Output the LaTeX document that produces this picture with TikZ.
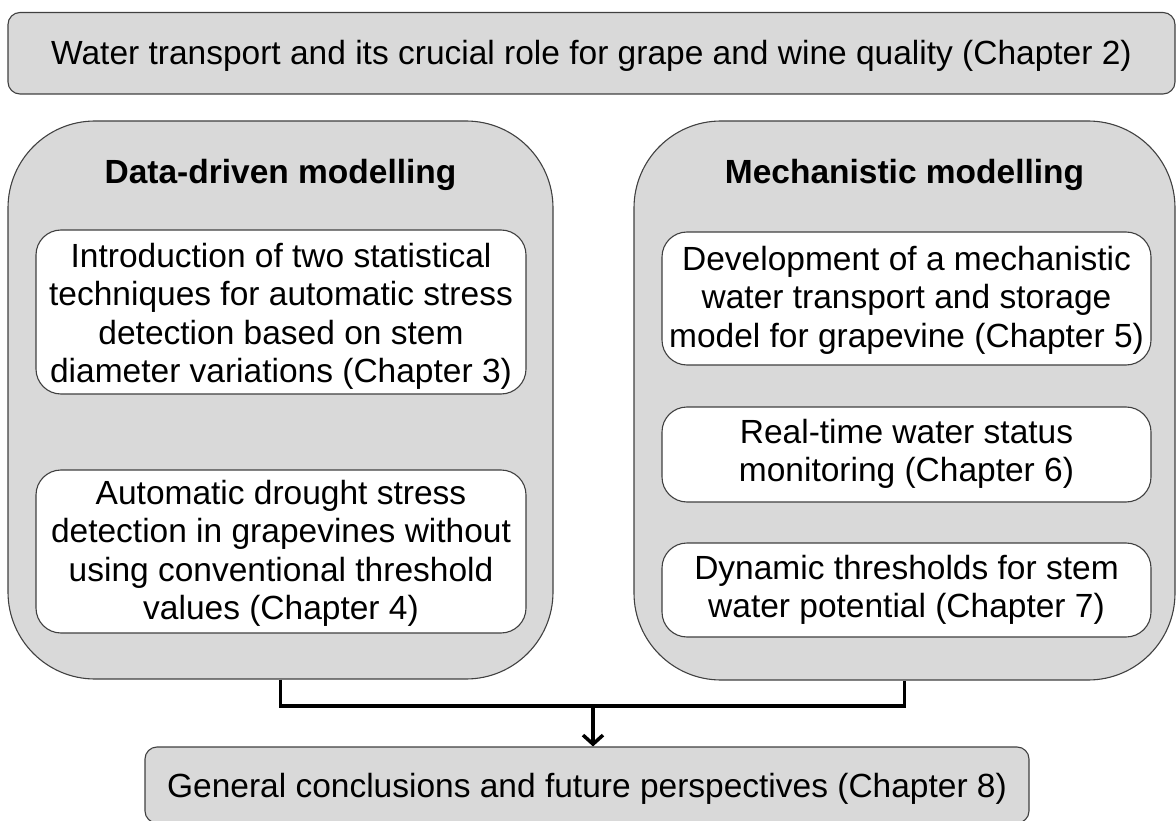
\documentclass[tikz,border=0pt]{standalone}
\usepackage{fontspec}
\setmainfont{Liberation Sans}
\usetikzlibrary{arrows.meta}
\definecolor{boxgray}{HTML}{D9D9D9}
\definecolor{edgegray}{HTML}{404040}
\newcommand{\lowered}[2]{\raisebox{-#1}[\height][\depth]{\begin{tabular}{@{}c@{}}#2\end{tabular}}}
\begin{document}
\begin{tikzpicture}[x=1pt,y=-1pt,
  txt/.style={font=\fontsize{33.5}{38.5}\selectfont, inner sep=0pt, align=center, text=black},
  bar/.style={txt, draw=edgegray, fill=boxgray, line width=1.1pt, rounded corners=12pt},
  panel/.style={draw=edgegray, fill=boxgray, line width=1.1pt, rounded corners=87pt, inner sep=0pt},
  card/.style={txt, draw=edgegray, fill=white, line width=1.1pt, rounded corners=25pt},
  heading/.style={txt, font=\fontsize{33.5}{38.5}\selectfont\bfseries, anchor=base},
  link/.style={line width=3.5pt, black},
]
\useasboundingbox (0,0) rectangle (1176,821);
\node[bar, minimum width=1167pt, minimum height=81.5pt] (top) at (591.5,53.25) {\lowered{3.8pt}{Water transport and its crucial role for grape and wine quality (Chapter 2)}};
\node[panel, minimum width=545pt, minimum height=558pt] (dd) at (280.5,400) {};
\node[panel, minimum width=541pt, minimum height=559pt] (mm) at (904.5,400.5) {};
\node[heading] (ddh) at (280.5,184) {Data-driven modelling};
\node[heading] (mmh) at (904.5,184) {Mechanistic modelling};
\node[card, minimum width=490pt, minimum height=164pt] (c3) at (281,312) {\lowered{5.5pt}{Introduction of two statistical\\techniques for automatic stress\\detection based on stem\\diameter variations (Chapter 3)}};
\node[card, minimum width=490pt, minimum height=163pt] (c4) at (281,551.5) {\lowered{2.8pt}{Automatic drought stress\\detection in grapevines without\\using conventional threshold\\values (Chapter 4)}};
\node[card, minimum width=489pt, minimum height=133pt] (c5) at (906.5,298.5) {\lowered{2.8pt}{Development of a mechanistic\\water transport and storage\\model for grapevine (Chapter 5)}};
\node[card, minimum width=489pt, minimum height=95pt] (c6) at (906.5,454.5) {\lowered{0.5pt}{Real-time water status\\monitoring (Chapter 6)}};
\node[card, minimum width=489pt, minimum height=94pt] (c7) at (906.5,590) {\lowered{1pt}{Dynamic thresholds for stem\\water potential (Chapter 7)}};
\node[bar, minimum width=884pt, minimum height=76pt] (concl) at (587,785) {\lowered{5pt}{General conclusions and future perspectives (Chapter 8)}};
\coordinate (join) at (593,706);
\draw[link] (dd.south) |- (join) -| (mm.south);
\draw[link, -{Straight Barb[length=9pt,width=20pt]}] (join) -- (join |- concl.north);
\end{tikzpicture}
\end{document}
